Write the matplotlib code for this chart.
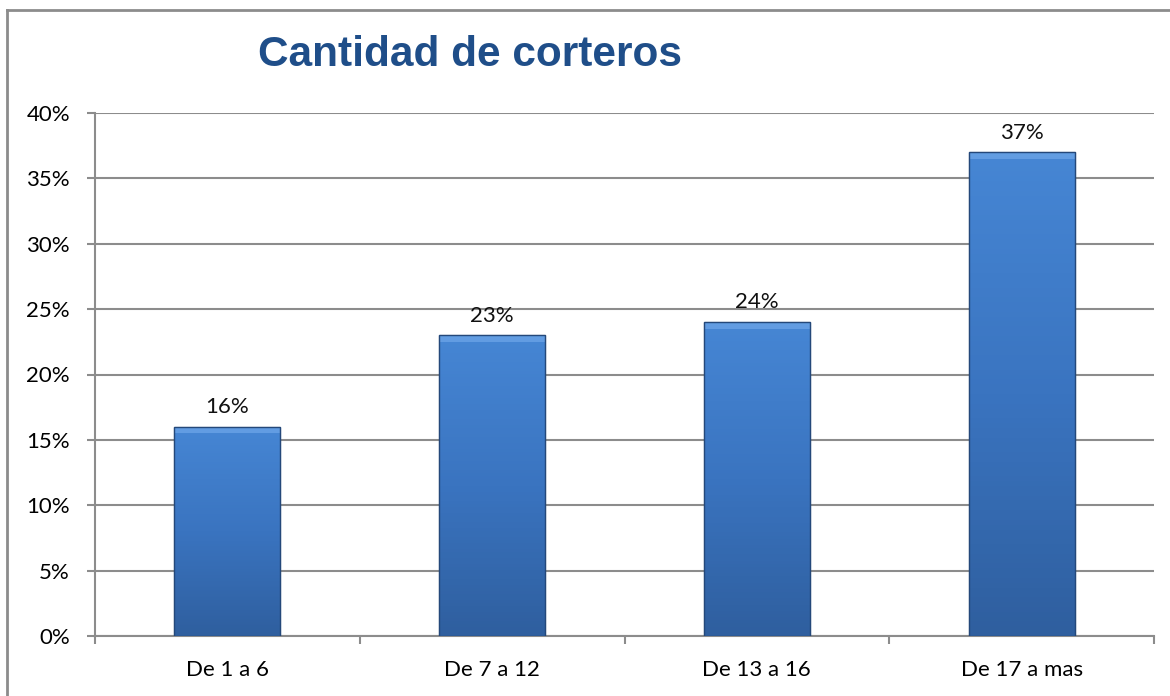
import matplotlib.pyplot as plt
import numpy as np
from matplotlib.colors import LinearSegmentedColormap
from matplotlib.lines import Line2D
from matplotlib.ticker import FixedLocator, FuncFormatter

categories = ["De 1 a 6", "De 7 a 12", "De 13 a 16", "De 17 a mas"]
values = [16, 23, 24, 37]
y_ticks = [0, 5, 10, 15, 20, 25, 30, 35, 40]
title = "Cantidad de corteros"

plt.rcParams["font.family"] = ["Lato", "DejaVu Sans"]

grid_color = "#8c8c8c"
fig = plt.figure(figsize=(11.7, 6.96), dpi=100)
fig.patch.set_facecolor("white")
ax = fig.add_axes([95 / 1170, 60 / 696, 1059 / 1170, 523 / 696])

x = np.arange(len(categories))
bar_width = 0.40
bars = ax.bar(x, values, width=bar_width, color="#3a75c4", edgecolor="#24487a",
              linewidth=0.8, zorder=3)

# vertical gradient + bevel look on each bar
grad = LinearSegmentedColormap.from_list("bar", ["#2f5f9f", "#3a74c0", "#4686d4"])
for bar in bars:
    bx, by = bar.get_x(), bar.get_y()
    bw, bh = bar.get_width(), bar.get_height()
    img = np.linspace(0, 1, 100).reshape(-1, 1)
    im = ax.imshow(img, cmap=grad, origin="lower", aspect="auto",
                   extent=(bx, bx + bw, by, by + bh), zorder=3.5)
    im.set_clip_path(bar)
    # light bevel at top
    ax.fill_between([bx, bx + bw], by + bh - 0.5, by + bh, color="#6aa3e6",
                    alpha=0.8, linewidth=0, zorder=3.6)
    ax.add_patch(plt.Rectangle((bx, by), bw, bh, fill=False, edgecolor="#24487a",
                               linewidth=1.0, zorder=3.8))

for xi, v in zip(x, values):
    ax.annotate(f"{v}%", (xi, v), xytext=(0, 7), textcoords="offset points",
                ha="center", va="bottom", fontsize=16, color="#111111")

ax.set_xlim(-0.5, len(categories) - 0.5)
ax.set_ylim(0, 40)
ax.set_xticks(x)
ax.set_xticklabels(categories, fontsize=16)
ax.xaxis.set_minor_locator(FixedLocator(np.arange(len(categories) + 1) - 0.5))
ax.tick_params(axis="x", which="major", length=0, pad=17)
ax.tick_params(axis="x", which="minor", length=6, width=1.5, color=grid_color, direction="out")
ax.set_yticks(y_ticks)
ax.yaxis.set_major_formatter(FuncFormatter(lambda v, _: f"{v:.0f}%"))
ax.tick_params(axis="y", length=6, width=1.5, color=grid_color, pad=12, labelsize=16)
ax.yaxis.grid(True, color=grid_color, linewidth=1.5, zorder=0)
ax.set_axisbelow(True)

for side in ["top", "right"]:
    ax.spines[side].set_visible(False)
for side in ["left", "bottom"]:
    ax.spines[side].set_color(grid_color)
    ax.spines[side].set_linewidth(1.5)

fig.text(470 / 1170, 1 - 55 / 696, title, ha="center", va="center", fontsize=30.5,
         fontweight="bold", color="#1f4e89", family=["Liberation Sans", "DejaVu Sans"])

# outer chart border (only top and left edges fall inside the picture)
fig.add_artist(Line2D([7 / 1170, 7 / 1170], [0, 1 - 10 / 696], transform=fig.transFigure,
                      color=grid_color, linewidth=2))
fig.add_artist(Line2D([7 / 1170, 1], [1 - 10 / 696, 1 - 10 / 696], transform=fig.transFigure,
                      color=grid_color, linewidth=2))

fig.savefig("out.png", dpi=100)
